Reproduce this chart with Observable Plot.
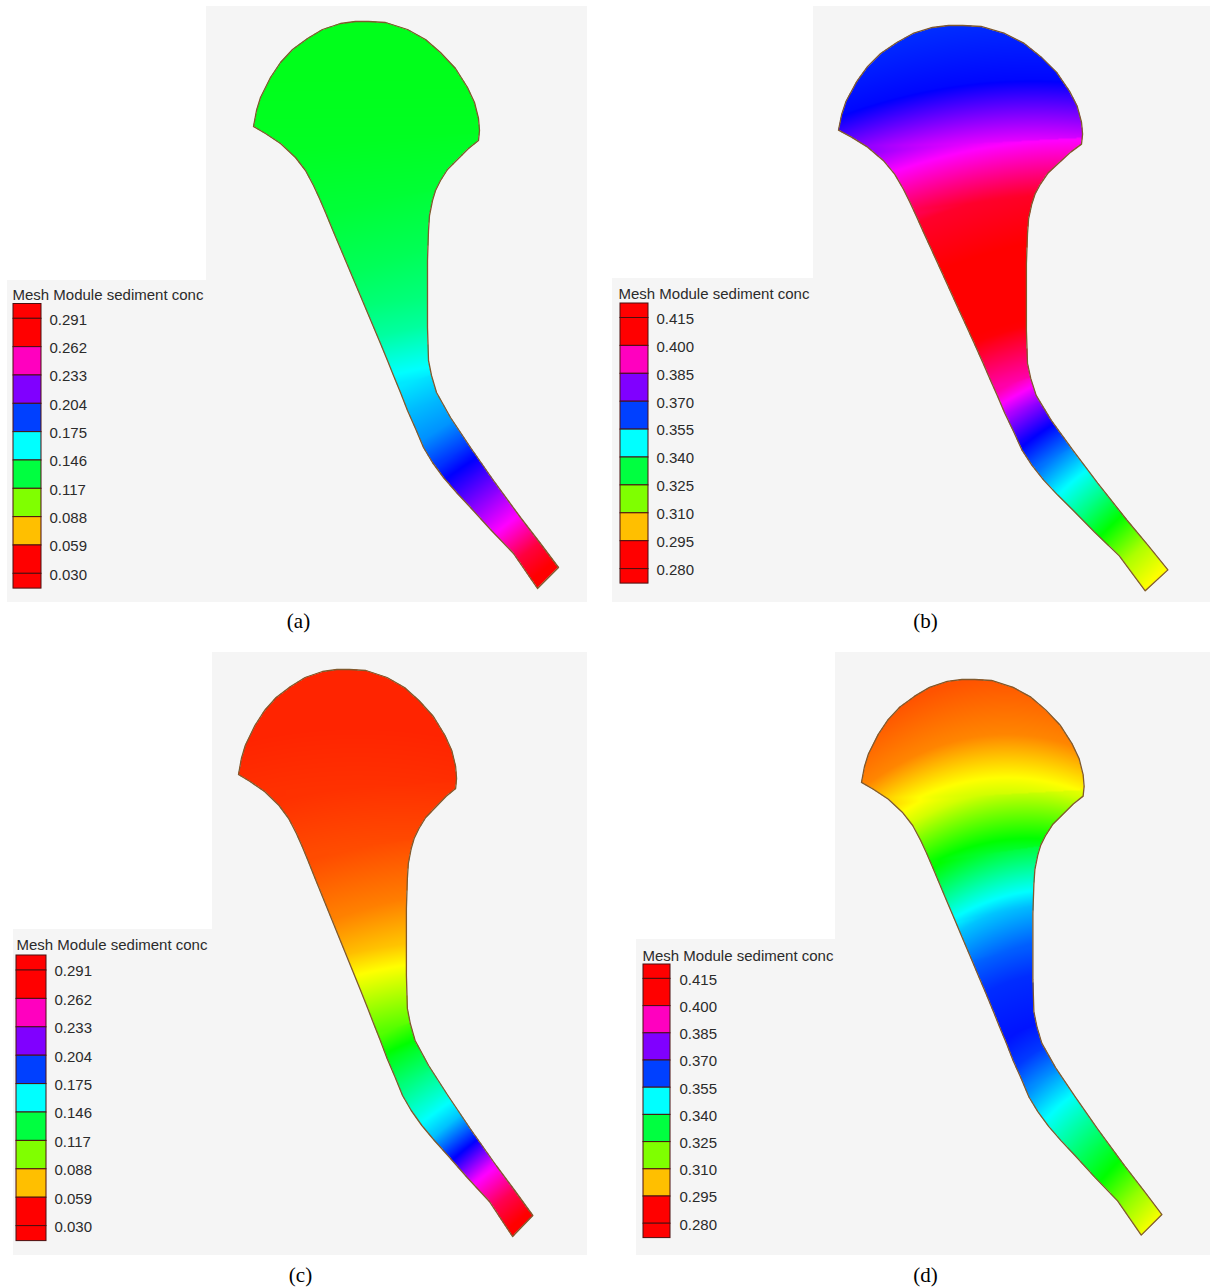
<!DOCTYPE html>
<html><head><meta charset="utf-8">
<script src="https://cdn.jsdelivr.net/npm/d3@7"></script>
<script src="https://cdn.jsdelivr.net/npm/@observablehq/plot@0.6"></script>
<style>
html,body{margin:0;padding:0;background:#fff;}
#chart{width:1210px;height:1287px;}
</style></head><body><div id="chart"></div>
<script>
// ---------------- data ----------------
const panelKeys = ["a", "b", "c", "d"];
const captions = ["(a)", "(b)", "(c)", "(d)"];
const legendTitle = "Mesh Module sediment conc";
const legendLabelsAC = [0.291, 0.262, 0.233, 0.204, 0.175, 0.146, 0.117, 0.088, 0.059, 0.030];
const legendLabelsBD = [0.415, 0.400, 0.385, 0.370, 0.355, 0.340, 0.325, 0.310, 0.295, 0.280];

// outline of the model domain (reference frame = panel a, pixels)
const outlineX = [253,256,260,270,280,292,307,322,340,355,368,385,407,425,440,455,467,474,478,479,478,468,457,447,440,435,432,429,428,427,427,427,428,431,436,450,470,493,520,540,558,537,513,490,470,456,443,432,423,415,407,400,393,387,380,372,364,356,348,340,332,325,319,313,305,295,280,265,253];
const outlineY = [126,110,97,77,62,49,38,29,23,21,21,22,29,39,52,68,87,102,118,130,140,148,159,169,180,190,200,215,230,260,293,327,360,375,392,417,447,480,517,543,567,588,553,529,507,492,477,462,447,428,410,392,375,360,343,324,305,286,267,248,229,212,198,185,170,157,143,133,126];

// centre-line stations along the channel (reference frame)
const stationX = [366,367,368,374,386,396,402,413,424,437,452,468,486,505,526,547];
const stationY = [21,80,140,200,260,300,330,380,405,430,455,478,502,525,552,578];

// sediment concentration read at the stations, one list per panel
const concA = [0.126,0.126,0.127,0.130,0.135,0.140,0.146,0.164,0.171,0.177,0.191,0.206,0.222,0.238,0.267,0.280];
const concB = [0.364,0.367,0.385,0.404,0.408,0.409,0.407,0.394,0.380,0.368,0.358,0.348,0.338,0.327,0.314,0.307];
const concC = [0.050,0.050,0.052,0.056,0.064,0.074,0.087,0.109,0.127,0.141,0.155,0.170,0.199,0.235,0.264,0.280];
const concD = [0.294,0.298,0.311,0.331,0.352,0.360,0.364,0.366,0.363,0.356,0.348,0.341,0.334,0.327,0.316,0.308];

// ---------------- layout (page pixels) ----------------
const layout = {
  a: {conc: concA, labels: legendLabelsAC, tx: 253, ty: 21, sx: 1, sy: 1, curv: 0, tilt: 0,
      frame: [206, 6, 587, 602], box: [7, 280, 206, 602], titleXY: [12, 299],
      bar: [13, 41], barTop: 303.5, yFirst: 318.3, yLast: 573.3, labelX: 49, cap: [298, 627]},
  b: {conc: concB, labels: legendLabelsBD, tx: 838, ty: 25, sx: 1.08, sy: 0.997, curv: 0.0011, tilt: 0.13,
      frame: [813, 6, 1210, 602], box: [612, 278, 813, 602], titleXY: [618, 298],
      bar: [620, 648], barTop: 303, yFirst: 317.5, yLast: 568.6, labelX: 656, cap: [925, 627]},
  c: {conc: concC, labels: legendLabelsAC, tx: 238, ty: 669, sx: 0.965, sy: 1.0, curv: 0.001, tilt: 0,
      frame: [212, 652, 587, 1255], box: [13, 929, 212, 1255], titleXY: [16, 949.5],
      bar: [16, 46], barTop: 955, yFirst: 970, yLast: 1225.6, labelX: 54, cap: [300, 1281]},
  d: {conc: concD, labels: legendLabelsBD, tx: 861, ty: 679, sx: 0.985, sy: 0.98, curv: 0.0025, tilt: 0.15,
      frame: [835, 652, 1210, 1255], box: [636, 939, 835, 1255], titleXY: [642, 960],
      bar: [643, 670], barTop: 964, yFirst: 978.4, yLast: 1223.2, labelX: 679, cap: [925, 1281]}
};
const REF_X = 253, REF_Y = 21;

// ---------------- geometry helpers ----------------
const refPoly = outlineX.map((x, i) => [x, outlineY[i]]);
const stations = stationX.map((x, i) => [x, stationY[i]]);
const cum = [0];
for (let i = 1; i < stations.length; i++) {
  cum.push(cum[i - 1] + Math.hypot(stations[i][0] - stations[i - 1][0], stations[i][1] - stations[i - 1][1]));
}
function project(px, py) {
  let best = Infinity, bs = 0, bd = 0;
  for (let i = 0; i < stations.length - 1; i++) {
    const [x0, y0] = stations[i], [x1, y1] = stations[i + 1];
    const vx = x1 - x0, vy = y1 - y0, L2 = vx * vx + vy * vy, L = Math.sqrt(L2);
    let u = ((px - x0) * vx + (py - y0) * vy) / L2;
    u = Math.max(0, Math.min(1, u));
    const qx = x0 + u * vx, qy = y0 + u * vy;
    const d2 = (px - qx) ** 2 + (py - qy) ** 2;
    if (d2 < best) { best = d2; bs = cum[i] + u * L; bd = (vy * (px - qx) - vx * (py - qy)) / L; }
  }
  return [bs, bd];
}
const toPageX = (L, ax) => L.tx + (ax - REF_X) * L.sx;
const toPageY = (L, ay) => L.ty + (ay - REF_Y) * L.sy;

// normalised position of a value in its legend (0 = first red cell centre, 1 = last red cell centre)
function normFor(labels) {
  const n = labels.length;
  const lo = (labels[n - 1] + labels[n - 2]) / 2;
  const hi = (labels[0] + labels[1]) / 2;
  return v => (v - lo) / (hi - lo);
}

// ---------------- marks ----------------
const bgRects = [];
const outlineRows = [];
const cellRows = [];
const labelRows = [];
const titleRows = [];
const captionRows = [];
const rasters = [];

panelKeys.forEach((k, pi) => {
  const L = layout[k];
  bgRects.push({x1: L.frame[0], y1: L.frame[1], x2: L.frame[2], y2: L.frame[3]});
  bgRects.push({x1: L.box[0], y1: L.box[1], x2: L.box[2], y2: L.box[3]});
  refPoly.forEach(([x, y]) => outlineRows.push({panel: k, x: toPageX(L, x), y: toPageY(L, y)}));

  const norm = normFor(L.labels);
  const profile = d3.scaleLinear().domain(cum).range(L.conc).clamp(true);
  const minX = d3.min(outlineX), maxX = d3.max(outlineX), minY = d3.min(outlineY), maxY = d3.max(outlineY);
  const x1 = Math.floor(toPageX(L, minX)) - 1, x2 = Math.ceil(toPageX(L, maxX)) + 1;
  const y1 = Math.floor(toPageY(L, minY)) - 1, y2 = Math.ceil(toPageY(L, maxY)) + 1;
  rasters.push(Plot.raster({
    x1, x2, y1, y2, width: x2 - x1, height: y2 - y1,
    fill: (x, y) => {
      const ax = REF_X + (x - L.tx) / L.sx, ay = REF_Y + (y - L.ty) / L.sy;
      if (!d3.polygonContains(refPoly, [ax, ay])) return NaN;
      const [s, d] = project(ax, ay);
      return norm(profile(s - L.curv * d * d + L.tilt * d));
    }
  }));

  // legend: value axis of the bar
  const labs = L.labels, n = labs.length;
  const ly = d3.scaleLinear().domain([labs[0], labs[n - 1]]).range([L.yFirst, L.yLast]);
  const step = labs[0] - labs[1];
  const ends = [labs[0] + step / 2, ...labs, labs[n - 1] - step / 2];
  for (let i = 0; i < ends.length - 1; i++) {
    const va = ends[i], vb = ends[i + 1];
    const ya = i === 0 ? L.barTop : ly(va);
    const yb = i === ends.length - 2 ? L.yLast + (L.yFirst - L.barTop) : ly(vb);
    cellRows.push({x1: L.bar[0], x2: L.bar[1], y1: ya, y2: yb, f: norm((va + vb) / 2)});
  }
  labs.forEach(v => labelRows.push({x: L.labelX, y: ly(v) + 1, text: v.toFixed(3)}));
  titleRows.push({x: L.titleXY[0], y: L.titleXY[1] - 0.32 * 15, text: legendTitle});
  captionRows.push({x: L.cap[0], y: L.cap[1] - 0.32 * 21, text: captions[pi]});
});

const chart = Plot.plot({
  width: 1210, height: 1287, margin: 0,
  x: {domain: [0, 1210], range: [0, 1210], axis: null},
  y: {domain: [0, 1287], range: [0, 1287], axis: null},
  color: {type: "linear", domain: [0, 1], clamp: true,
          interpolate: t => d3.hsl(t * 360, 1, 0.5).formatHex()},
  style: {background: "#ffffff"},
  marks: [
    Plot.rect(bgRects, {x1: "x1", x2: "x2", y1: "y1", y2: "y2", fill: "#f5f5f5"}),
    ...rasters,
    Plot.line(outlineRows, {x: "x", y: "y", z: "panel", stroke: "#80592c", strokeWidth: 1.3}),
    Plot.rect(cellRows, {x1: "x1", x2: "x2", y1: "y1", y2: "y2", fill: "f", stroke: "#4a1010", strokeWidth: 1}),
    Plot.text(labelRows, {x: "x", y: "y", text: "text", textAnchor: "start", fontSize: 15,
      fontFamily: "Liberation Sans, Arial, sans-serif", fill: "#2b2b2b"}),
    Plot.text(titleRows, {x: "x", y: "y", text: "text", textAnchor: "start", fontSize: 15,
      fontFamily: "Liberation Sans, Arial, sans-serif", fill: "#2b2b2b"}),
    Plot.text(captionRows, {x: "x", y: "y", text: "text", textAnchor: "middle", fontSize: 21,
      fontFamily: "Liberation Serif, Times New Roman, serif", fill: "#000"})
  ]
});
document.getElementById("chart").appendChild(chart);
</script>
</body></html>
